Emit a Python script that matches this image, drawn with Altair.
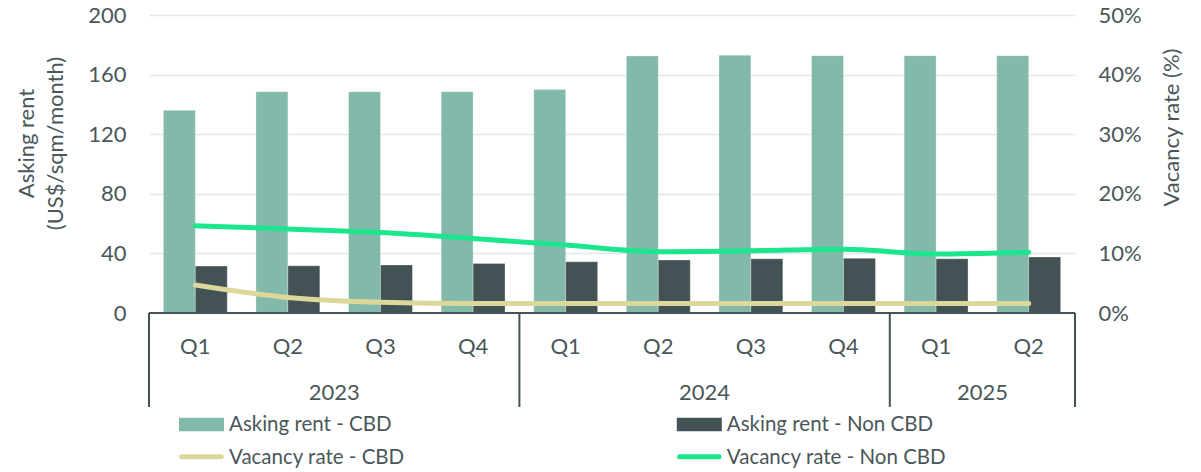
import altair as alt
import pandas as pd

# ---------------- data ----------------
quarters = ["Q1", "Q2", "Q3", "Q4", "Q1", "Q2", "Q3", "Q4", "Q1", "Q2"]
years = ["2023", "2023", "2023", "2023", "2024", "2024", "2024", "2024", "2025", "2025"]
rent_cbd = [136, 148.5, 148.5, 148.5, 150, 172.5, 173, 172.7, 172.7, 172.7]
rent_noncbd = [31.5, 31.7, 32.2, 33.3, 34.4, 35.6, 36.4, 36.7, 36.4, 37.6]
vac_cbd = [4.7, 2.6, 1.8, 1.6, 1.6, 1.6, 1.6, 1.6, 1.6, 1.6]
vac_noncbd = [14.65, 14.1, 13.5, 12.5, 11.4, 10.3, 10.45, 10.7, 9.9, 10.2]

left_ticks = [0, 40, 80, 120, 160, 200]
right_ticks = [0, 10, 20, 30, 40, 50]

legend_labels = ["Asking rent - CBD", "Asking rent - Non CBD",
                 "Vacancy rate - CBD", "Vacancy rate - Non CBD"]
legend_kinds = ["bar", "bar", "line", "line"]
legend_colors = ["#82b9ab", "#435254", "#dcd79a", "#1be68d"]

TXT = "#4a5759"
AXC = "#435254"
GRID = "#e2e8e6"
FONT = "Lato"
FS = 22
LFS = 20.5

n = len(quarters)
df = pd.DataFrame({
    "idx": list(range(n)), "quarter": quarters, "year": years,
    legend_labels[0]: rent_cbd, legend_labels[1]: rent_noncbd,
    legend_labels[2]: vac_cbd, legend_labels[3]: vac_noncbd,
})

bounds = [0] + [i for i in range(1, n) if years[i] != years[i - 1]] + [n]
sep_df = pd.DataFrame({"pos": bounds})

leg_df = pd.DataFrame({"i": list(range(len(legend_labels))), "label": legend_labels,
                       "kind": legend_kinds})

X = alt.Scale(domain=[0, n], nice=False, zero=False)
YL = alt.Scale(domain=[-104, 200], nice=False, zero=False)
YR = alt.Scale(domain=[-26, 50], nice=False, zero=False)
COL = alt.Scale(domain=legend_labels, range=legend_colors)

BW = 0.345  # bar width in category units

bars = alt.Chart(df).transform_fold(
    legend_labels[:2], as_=["series", "rent"]
).transform_calculate(
    x0=f"datum.idx + 0.5 - (datum.series == '{legend_labels[0]}' ? {BW} : 0)",
    x1=f"datum.idx + 0.5 + (datum.series == '{legend_labels[0]}' ? 0 : {BW})",
    zero="0",
).mark_bar(stroke="#ffffff", strokeWidth=0.6, strokeOpacity=0.5).encode(
    x=alt.X("x0:Q", scale=X, axis=None),
    x2="x1:Q",
    y=alt.Y("rent:Q", scale=YL, axis=alt.Axis(
        values=left_ticks, title=["Asking rent", "(US$/sqm/month)"],
        grid=True, gridColor=GRID, gridWidth=1.5, domain=False, ticks=False, tickSize=0,
        labelPadding=23, labelFontSize=FS, labelColor=TXT, labelFont=FONT,
        titleFontSize=FS, titleFont=FONT, titleFontWeight="normal", titleColor=TXT,
        titlePadding=20, titleY=128, titleLineHeight=29)),
    y2="zero:Q",
    color=alt.Color("series:N", scale=COL, legend=None),
)

base_rule = alt.Chart(sep_df).transform_aggregate(
    lo="min(pos)", hi="max(pos)"
).transform_calculate(zero="0").mark_rule(color=AXC, strokeWidth=2).encode(
    x=alt.X("lo:Q", scale=X, axis=None), x2="hi:Q", y=alt.Y("zero:Q", scale=YL)
)

seps = alt.Chart(sep_df).transform_calculate(top="0", bot="-63").mark_rule(
    color=AXC, strokeWidth=2).encode(
    x=alt.X("pos:Q", scale=X, axis=None),
    y=alt.Y("top:Q", scale=YL), y2="bot:Q",
)

qlabels = alt.Chart(df).transform_calculate(xc="datum.idx + 0.5", ly="-22.6").mark_text(
    fontSize=FS, font=FONT, color=TXT, baseline="middle", align="center"
).encode(x=alt.X("xc:Q", scale=X, axis=None), y=alt.Y("ly:Q", scale=YL), text="quarter:N")

ylabels = alt.Chart(df).transform_calculate(xc="datum.idx + 0.5").transform_aggregate(
    xm="mean(xc)", groupby=["year"]
).transform_calculate(ly="-54").mark_text(
    fontSize=FS, font=FONT, color=TXT, baseline="middle", align="center").encode(
    x=alt.X("xm:Q", scale=X, axis=None), y=alt.Y("ly:Q", scale=YL), text="year:N")

leg_base = alt.Chart(leg_df).transform_calculate(
    col="datum.i % 2", row="floor(datum.i / 2)",
).transform_calculate(
    sx="datum.col == 0 ? 0.324 : 5.70",
    ly="datum.row == 0 ? -74.8 : -96.5",
).transform_calculate(
    sx2="datum.sx + 0.486", tx="datum.sx + 0.54",
)

leg_bar = leg_base.transform_filter("datum.kind == 'bar'").mark_rule(
    strokeWidth=13.5, strokeCap="butt").encode(
    x=alt.X("sx:Q", scale=X, axis=None), x2="sx2:Q",
    y=alt.Y("ly:Q", scale=YL), color=alt.Color("label:N", scale=COL, legend=None))

leg_line = leg_base.transform_filter("datum.kind == 'line'").transform_calculate(
    a="datum.sx + 0.03", b="datum.sx2 - 0.03").mark_rule(
    strokeWidth=5, strokeCap="round").encode(
    x=alt.X("a:Q", scale=X, axis=None), x2="b:Q",
    y=alt.Y("ly:Q", scale=YL), color=alt.Color("label:N", scale=COL, legend=None))

leg_text = leg_base.mark_text(fontSize=LFS, font=FONT, color=TXT, align="left",
                              baseline="middle", dy=1).encode(
    x=alt.X("tx:Q", scale=X, axis=None), y=alt.Y("ly:Q", scale=YL), text="label:N")

left = alt.layer(bars, base_rule, seps, qlabels, ylabels, leg_bar, leg_line, leg_text)

lines = alt.Chart(df).transform_fold(
    legend_labels[2:], as_=["series", "vac"]
).transform_calculate(xc="datum.idx + 0.5").mark_line(
    interpolate="monotone", strokeWidth=5, strokeCap="round"
).encode(
    x=alt.X("xc:Q", scale=X, axis=None),
    y=alt.Y("vac:Q", scale=YR, axis=alt.Axis(
        orient="right", values=right_ticks, labelExpr="datum.value + '%'",
        grid=False, domain=False, ticks=False, tickSize=0,
        labelPadding=23, labelFontSize=FS, labelColor=TXT, labelFont=FONT,
        title="Vacancy rate (%)", titleAngle=270, titleFontSize=FS, titleFont=FONT,
        titleFontWeight="normal", titleColor=TXT, titleX=96, titleY=112,
        titleAlign="center", titleBaseline="middle")),
    color=alt.Color("series:N", scale=COL, legend=None),
)

chart = alt.layer(left, lines).resolve_scale(y="independent").properties(
    width=926, height=453,
    padding={"left": 15, "top": 4, "right": 16, "bottom": 0},
    background="white",
).configure_view(stroke=None)

chart.save("out.html", embed_options={"renderer": "svg", "actions": False})
